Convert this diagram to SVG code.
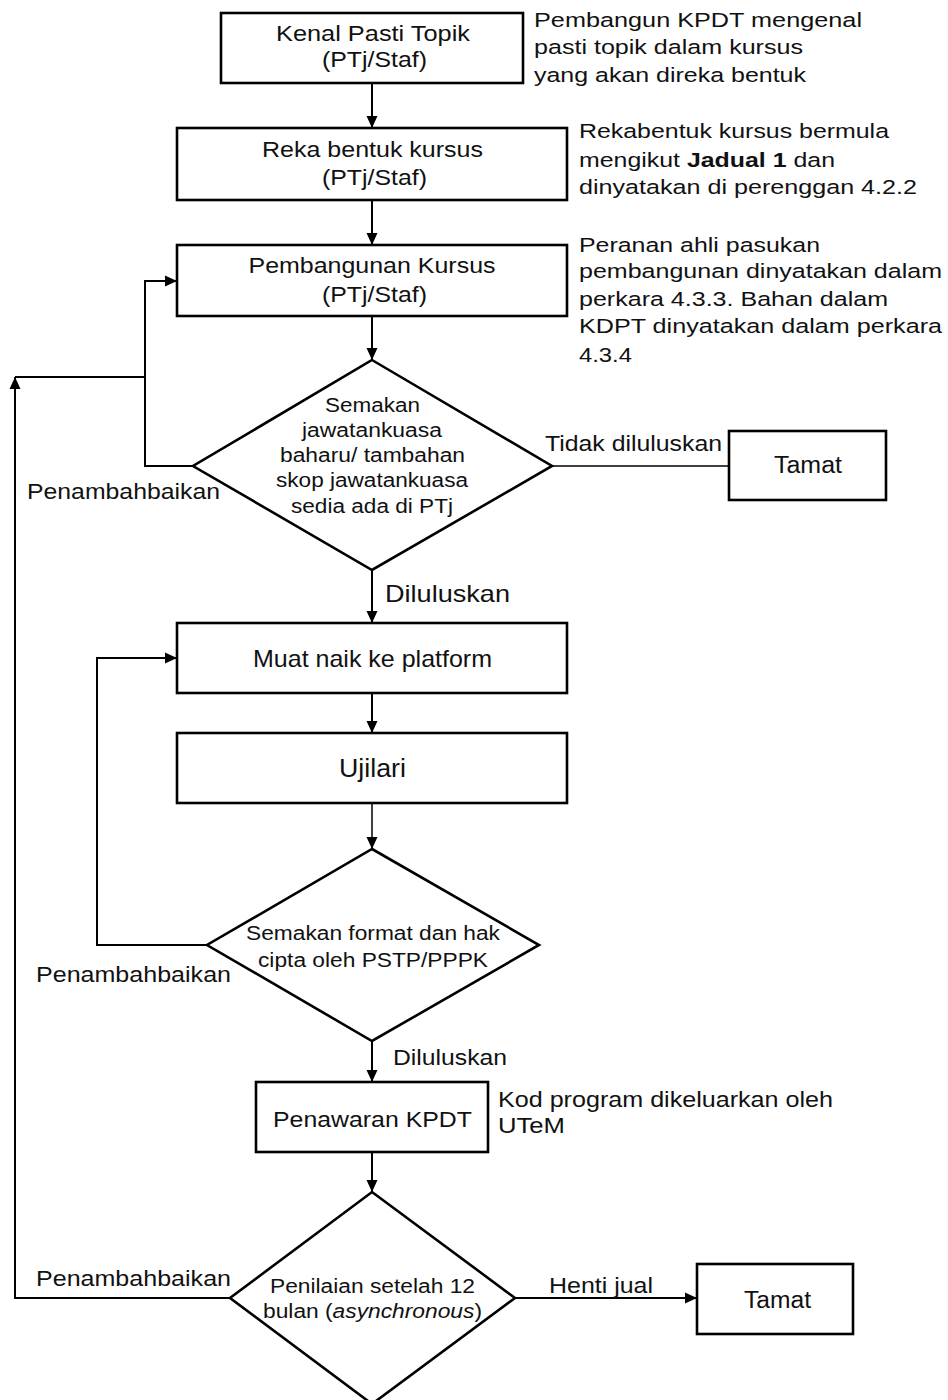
<svg xmlns="http://www.w3.org/2000/svg" width="948" height="1400" viewBox="0 0 948 1400">
<style>
text{font-family:"Liberation Sans",Arial,sans-serif;fill:#111;}
.box{fill:#fff;stroke:#000;stroke-width:2.6;}
.dia{fill:#fff;stroke:#000;stroke-width:2.6;stroke-linejoin:miter;}
.c{fill:none;stroke:#000;stroke-width:2;}
.thin{fill:none;stroke:#000;stroke-width:1.5;}
.m{font-size:22px;}
.a{font-size:20.5px;}
.d{font-size:20px;}
.mid{text-anchor:middle;}
</style>
<defs>
<marker id="arr" markerUnits="userSpaceOnUse" markerWidth="12" markerHeight="12" viewBox="0 0 12 12" refX="12" refY="6" orient="auto">
<path d="M0,0.5 L12,6 L0,11.5 Z" fill="#000"/>
</marker>
</defs>
<rect width="948" height="1400" fill="#fff"/>

<g id="connectors">
<path class="c" d="M372,83 V128" marker-end="url(#arr)"/>
<path class="c" d="M372,200 V245" marker-end="url(#arr)"/>
<path class="c" d="M372,316 V360" marker-end="url(#arr)"/>
<path class="c" d="M193,466 H145 V281 H177" marker-end="url(#arr)"/>
<path class="c" d="M145,377 H15"/>
<path class="c" d="M230,1298 H15 V377" marker-end="url(#arr)"/>
<path class="thin" d="M552,466 H729"/>
<path class="c" d="M372,570 V623" marker-end="url(#arr)"/>
<path class="c" d="M372,693 V733" marker-end="url(#arr)"/>
<path class="thin" d="M372,803 V849" marker-end="url(#arr)"/>
<path class="c" d="M207,945 H97 V658 H177" marker-end="url(#arr)"/>
<path class="c" d="M372,1041 V1082" marker-end="url(#arr)"/>
<path class="c" d="M372,1152 V1192" marker-end="url(#arr)"/>
<path class="c" d="M515,1298 H697" marker-end="url(#arr)"/>
<text class="m" x="27" y="499" textLength="193" lengthAdjust="spacingAndGlyphs">Penambahbaikan</text>
<text x="385" y="602" font-size="24" textLength="125" lengthAdjust="spacingAndGlyphs">Diluluskan</text>
<text class="m" x="545" y="451" textLength="177" lengthAdjust="spacingAndGlyphs">Tidak diluluskan</text>
<text class="m" x="36" y="982" textLength="195" lengthAdjust="spacingAndGlyphs">Penambahbaikan</text>
<text class="m" x="393" y="1065" textLength="114" lengthAdjust="spacingAndGlyphs">Diluluskan</text>
<text class="m" x="36" y="1286" textLength="195" lengthAdjust="spacingAndGlyphs">Penambahbaikan</text>
<text class="m" x="549" y="1293" textLength="104" lengthAdjust="spacingAndGlyphs">Henti jual</text>
</g>

<g id="kenal">
<rect class="box" x="221" y="13" width="302" height="70"/>
<text class="m mid" x="373" y="41" textLength="194" lengthAdjust="spacingAndGlyphs">Kenal Pasti Topik</text>
<text class="m mid" x="374.5" y="67" textLength="105" lengthAdjust="spacingAndGlyphs">(PTj/Staf)</text>
</g>
<g id="note1">
<text class="a" x="534" y="27" textLength="328" lengthAdjust="spacingAndGlyphs">Pembangun KPDT mengenal</text>
<text class="a" x="534" y="54" textLength="269" lengthAdjust="spacingAndGlyphs">pasti topik dalam kursus</text>
<text class="a" x="534" y="82" textLength="272" lengthAdjust="spacingAndGlyphs">yang akan direka bentuk</text>
</g>

<g id="reka">
<rect class="box" x="177" y="128" width="390" height="72"/>
<text class="m mid" x="372.5" y="157" textLength="221" lengthAdjust="spacingAndGlyphs">Reka bentuk kursus</text>
<text class="m mid" x="374.5" y="185" textLength="105" lengthAdjust="spacingAndGlyphs">(PTj/Staf)</text>
</g>
<g id="note2">
<text class="a" x="579" y="138" textLength="310" lengthAdjust="spacingAndGlyphs">Rekabentuk kursus bermula</text>
<text class="a" x="579" y="167" textLength="256" lengthAdjust="spacingAndGlyphs">mengikut <tspan font-weight="bold">Jadual 1</tspan> dan</text>
<text class="a" x="579" y="194" textLength="338" lengthAdjust="spacingAndGlyphs">dinyatakan di perenggan 4.2.2</text>
</g>

<g id="pembangunan">
<rect class="box" x="177" y="245" width="390" height="71"/>
<text class="m mid" x="372" y="273" textLength="247" lengthAdjust="spacingAndGlyphs">Pembangunan Kursus</text>
<text class="m mid" x="374.5" y="302" textLength="105" lengthAdjust="spacingAndGlyphs">(PTj/Staf)</text>
</g>
<g id="note3">
<text class="a" x="579" y="252" textLength="241" lengthAdjust="spacingAndGlyphs">Peranan ahli pasukan</text>
<text class="a" x="579" y="278" textLength="363" lengthAdjust="spacingAndGlyphs">pembangunan dinyatakan dalam</text>
<text class="a" x="579" y="306" textLength="309" lengthAdjust="spacingAndGlyphs">perkara 4.3.3. Bahan dalam</text>
<text class="a" x="579" y="333" textLength="363" lengthAdjust="spacingAndGlyphs">KDPT dinyatakan dalam perkara</text>
<text class="a" x="579" y="362" textLength="53" lengthAdjust="spacingAndGlyphs">4.3.4</text>
</g>

<g id="semakan1">
<polygon class="dia" points="372,360 552,466 372,570 193,466"/>
<text class="d mid" x="372.5" y="412" textLength="95" lengthAdjust="spacingAndGlyphs">Semakan</text>
<text class="d mid" x="372" y="437" textLength="140" lengthAdjust="spacingAndGlyphs">jawatankuasa</text>
<text class="d mid" x="372.5" y="462" textLength="185" lengthAdjust="spacingAndGlyphs">baharu/ tambahan</text>
<text class="d mid" x="372" y="487" textLength="192" lengthAdjust="spacingAndGlyphs">skop jawatankuasa</text>
<text class="d mid" x="372" y="513" textLength="162" lengthAdjust="spacingAndGlyphs">sedia ada di PTj</text>
</g>

<g id="tamat1">
<rect class="box" x="729" y="431" width="157" height="69"/>
<text class="mid" x="808" y="473" font-size="23" textLength="68" lengthAdjust="spacingAndGlyphs">Tamat</text>
</g>

<g id="muat">
<rect class="box" x="177" y="623" width="390" height="70"/>
<text class="mid" x="372.5" y="667" font-size="24" textLength="239" lengthAdjust="spacingAndGlyphs">Muat naik ke platform</text>
</g>

<g id="ujilari">
<rect class="box" x="177" y="733" width="390" height="70"/>
<text class="mid" x="372.5" y="777" font-size="25" textLength="67" lengthAdjust="spacingAndGlyphs">Ujilari</text>
</g>

<g id="semakan2">
<polygon class="dia" points="372,849 539,945 372,1041 207,945"/>
<text class="d mid" x="373" y="940" textLength="254" lengthAdjust="spacingAndGlyphs">Semakan format dan hak</text>
<text class="d mid" x="373" y="967" textLength="230" lengthAdjust="spacingAndGlyphs">cipta oleh PSTP/PPPK</text>
</g>

<g id="penawaran">
<rect class="box" x="256" y="1082" width="232" height="70"/>
<text class="m mid" x="372.5" y="1127" textLength="199" lengthAdjust="spacingAndGlyphs">Penawaran KPDT</text>
</g>
<g id="note4">
<text class="m" x="498" y="1107" textLength="335" lengthAdjust="spacingAndGlyphs">Kod program dikeluarkan oleh</text>
<text class="m" x="498" y="1133" textLength="67" lengthAdjust="spacingAndGlyphs">UTeM</text>
</g>

<g id="penilaian">
<polygon class="dia" points="372,1192 515,1298 372,1404 230,1298"/>
<text class="d mid" x="372.5" y="1293" textLength="205" lengthAdjust="spacingAndGlyphs">Penilaian setelah 12</text>
<text class="d mid" x="372.5" y="1318" textLength="219" lengthAdjust="spacingAndGlyphs">bulan (<tspan font-style="italic">asynchronous</tspan>)</text>
</g>

<g id="tamat2">
<rect class="box" x="697" y="1264" width="156" height="70"/>
<text class="mid" x="777.5" y="1308" font-size="23" textLength="67" lengthAdjust="spacingAndGlyphs">Tamat</text>
</g>
</svg>
